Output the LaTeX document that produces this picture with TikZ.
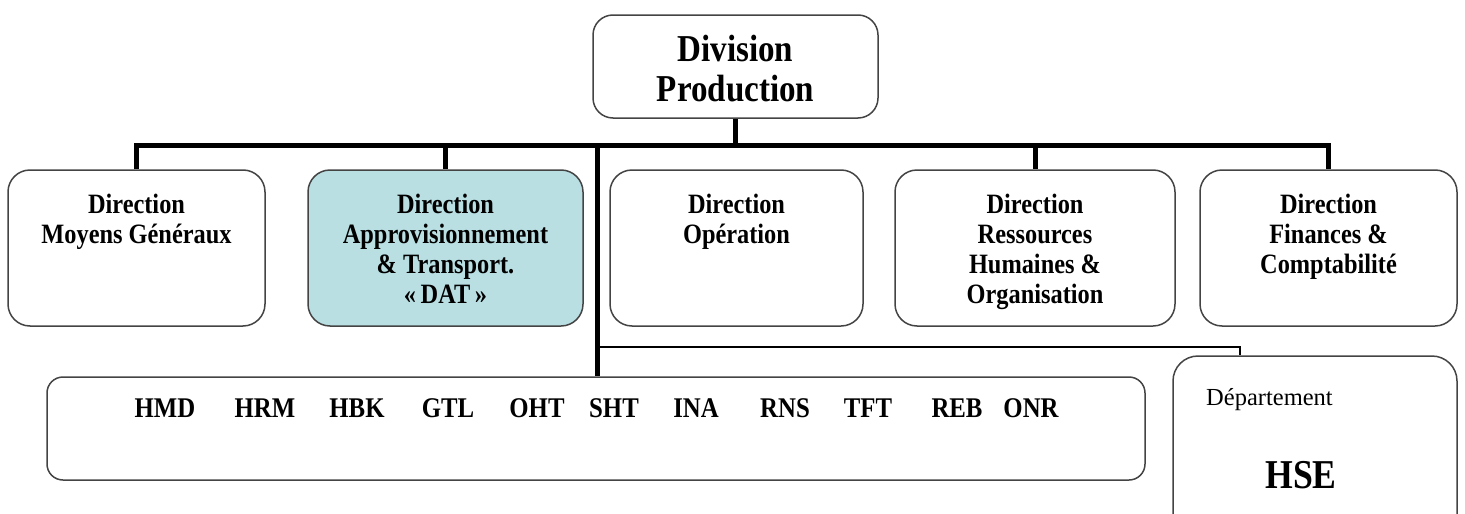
\documentclass[tikz,border=0pt]{standalone}
\usepackage{fontspec}
\setmainfont{Liberation Serif}[FakeStretch=0.87]
\newfontfamily\uprightserif{Liberation Serif}
\usetikzlibrary{calc}

\definecolor{datfill}{HTML}{B9DFE3}
\definecolor{frame}{HTML}{444444}

\begin{document}
\begin{tikzpicture}[x=1pt,y=-1pt,
  unit/.style={draw=frame, line width=1.5pt, rounded corners=22pt, fill=white,
               inner sep=0pt, minimum height=156pt},
  bus/.style={line width=5pt},
  link/.style={line width=1.5pt},
  dirtext/.style={font=\fontsize{28}{30}\selectfont\bfseries, align=center,
                  anchor=north, inner sep=0pt},
  code/.style={font=\fontsize{28.5}{30}\selectfont\bfseries, anchor=base, inner sep=0pt}]

\useasboundingbox (0,0) rectangle (1465,514);
\clip (0,0) rectangle (1465,514);

% head of the division
\node[unit, rounded corners=20pt, minimum width=285pt, minimum height=103pt] (div) at (735.5,66.5) {};
\node[align=center, inner sep=0pt, font=\fontsize{38}{40}\selectfont\bfseries] (divt)
      at ($(div.center)+(0,2.5)$) {Division\\Production};

% directorates
\node[unit, minimum width=257pt] (mg) at (136.5,248) {};
\node[unit, minimum width=275pt, fill=datfill] (dat) at (445.5,248) {};
\node[unit, minimum width=253pt] (op) at (736.5,248) {};
\node[unit, minimum width=280pt] (rh) at (1035,248) {};
\node[unit, minimum width=257pt] (fc) at (1328.5,248) {};

\node[dirtext] (mgt) at ($(mg.north)+(0,25)$) {Direction\\Moyens Généraux};
\node[dirtext] (datt) at ($(dat.north)+(0,25)$) {Direction\\Approvisionnement\\\& Transport.\\«\,DAT\,»};
\node[dirtext] (opt) at ($(op.north)+(0,25)$) {Direction\\Opération};
\node[dirtext] (rht) at ($(rh.north)+(0,25)$) {Direction\\Ressources\\Humaines \&\\Organisation};
\node[dirtext] (fct) at ($(fc.north)+(0,25)$) {Direction\\Finances \&\\Comptabilité};

% production regions
\node[unit, rounded corners=16pt, minimum width=1098pt, minimum height=103pt] (regions) at (596,428.5) {};
\node[code] (c1) at (165,417) {HMD};
\node[code] (c2) at (265,417) {HRM};
\node[code] (c3) at (357,417) {HBK};
\node[code] (c4) at (448,417) {GTL};
\node[code] (c5) at (537,417) {OHT};
\node[code] (c6) at (614,417) {SHT};
\node[code] (c7) at (696,417) {INA};
\node[code] (c8) at (785,417) {RNS};
\node[code] (c9) at (868,417) {TFT};
\node[code] (c10) at (957,417) {REB};
\node[code] (c11) at (1031,417) {ONR};

% HSE department
\node[unit, rounded corners=25pt, minimum width=284pt, minimum height=190pt] (hse) at (1315,451) {};
\node[font=\uprightserif\fontsize{24.5}{26}\selectfont, anchor=base west, inner sep=0pt] (hset) at (1206,405) {Département};
\node[font=\fontsize{41}{42}\selectfont\bfseries, anchor=base, inner sep=0pt] (hsen) at (1301,488) {HSE};

% connectors
\coordinate (busy) at (0,145);
\coordinate (trunk) at (597,145);
\coordinate (tap) at (597,347);
\draw[bus] (mg.north) -- (mg.north |- busy) -- (fc.north |- busy) -- (fc.north);
\draw[bus] (div.south) -- (div.south |- busy);
\draw[bus] (dat.north |- busy) -- (dat.north);
\draw[bus] (rh.north |- busy) -- (rh.north);
\draw[bus] (trunk) -- (trunk |- regions.north);
\draw[link] (tap) -| ($(hse.north)+(-75,0)$);
\end{tikzpicture}
\end{document}
